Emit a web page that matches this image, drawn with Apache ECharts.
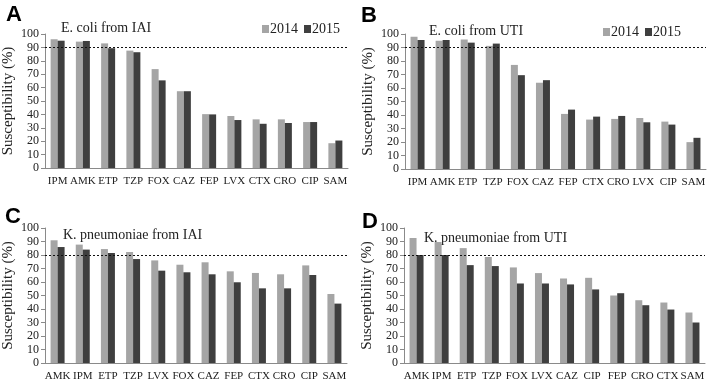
<!DOCTYPE html>
<html>
<head>
<meta charset="utf-8">
<script src="https://cdn.jsdelivr.net/npm/echarts@6/dist/echarts.min.js"></script>
<style>
html, body { margin: 0; padding: 0; background: #fff; }
#main { width: 709px; height: 382px; }
</style>
</head>
<body>
<div id="main"></div>
<script>
// antibiotic categories per panel
var catsA = ['IPM', 'AMK', 'ETP', 'TZP', 'FOX', 'CAZ', 'FEP', 'LVX', 'CTX', 'CRO', 'CIP', 'SAM'];
var catsB = ['IPM', 'AMK', 'ETP', 'TZP', 'FOX', 'CAZ', 'FEP', 'CTX', 'CRO', 'LVX', 'CIP', 'SAM'];
var catsC = ['AMK', 'IPM', 'ETP', 'TZP', 'LVX', 'FOX', 'CAZ', 'FEP', 'CTX', 'CRO', 'CIP', 'SAM'];
var catsD = ['AMK', 'IPM', 'ETP', 'TZP', 'FOX', 'LVX', 'CAZ', 'CIP', 'FEP', 'CRO', 'CTX', 'SAM'];

// susceptibility (%)
var a2014 = [96, 94.3, 93, 87.6, 73.8, 57.3, 40.2, 38.8, 36.3, 36.3, 34.3, 18.5];
var a2015 = [95, 94.8, 89.4, 86.4, 65.4, 57.3, 40, 35.8, 33, 33.6, 34.3, 20.5];
var b2014 = [98, 95, 96, 91.2, 77.1, 63.9, 40.8, 36.6, 37.1, 37.8, 35.1, 19.9];
var b2015 = [95.6, 95.6, 93.6, 92.9, 69.5, 65.8, 44, 38.8, 39.3, 34.6, 32.9, 23.1];
var c2014 = [90.9, 87.7, 84.4, 82.2, 76, 72.8, 74.6, 67.9, 66.7, 65.7, 72.3, 51.1];
var c2015 = [85.9, 84, 81.5, 77, 68.4, 67.2, 65.7, 59.8, 55.3, 55.3, 65.2, 44];
var d2014 = [92.6, 89.6, 85.1, 78.5, 70.8, 66.6, 62.6, 63.1, 50, 46.5, 44.8, 37.4];
var d2015 = [80, 80, 72.5, 71.8, 58.9, 58.9, 58.2, 54.5, 51.7, 42.8, 39.6, 30];

var panelTitles = ['E. coli from IAI', 'E. coli from UTI', 'K. pneumoniae from IAI', 'K. pneumoniae from UTI'];
var thresholds = [90, 90, 80, 80];

var serif = '"Liberation Serif", "DejaVu Serif", serif';
var light = '#a5a5a5';
var dark = '#3f3f3f';

var grids = [
	{ left: 42, top: 34, width: 306, height: 134 },
	{ left: 405, top: 34, width: 301, height: 135 },
	{ left: 42, top: 228, width: 305, height: 137 },
	{ left: 404, top: 228, width: 301, height: 137 }
];
var cats = [catsA, catsB, catsC, catsD];
var data14 = [a2014, b2014, c2014, d2014];
var data15 = [a2015, b2015, c2015, d2015];

var xAxes = [], yAxes = [], series = [];
for (var i = 0; i < 4; i++) {
	xAxes.push({
		type: 'category',
		gridIndex: i,
		data: cats[i],
		axisLine: { lineStyle: { color: '#8a8a8a' } },
		axisTick: { length: 4, lineStyle: { color: '#8a8a8a' } },
		axisLabel: { color: '#222', fontFamily: serif, fontSize: 11, margin: 8, interval: 0 }
	});
	yAxes.push({
		type: 'value',
		gridIndex: i,
		min: 0,
		max: 100,
		interval: 10,
		name: 'Susceptibility (%)',
		nameLocation: 'middle',
		nameGap: 29,
		nameTextStyle: { color: '#222', fontFamily: serif, fontSize: 15 },
		axisLine: { show: true, lineStyle: { color: '#8a8a8a' } },
		axisTick: { show: true, length: 4, lineStyle: { color: '#8a8a8a' } },
		splitLine: { show: false },
		axisLabel: { color: '#222', fontFamily: serif, fontSize: 12, margin: 6 }
	});
	series.push({
		name: '2014',
		type: 'bar',
		xAxisIndex: i,
		yAxisIndex: i,
		data: data14[i],
		barWidth: 7,
		barGap: '0%',
		itemStyle: { color: light },
		markLine: {
			silent: true,
			symbol: 'none',
			label: { show: false },
			lineStyle: { color: '#111', type: [2, 2], width: 1.2 },
			data: [{ yAxis: thresholds[i] }]
		}
	});
	series.push({
		name: '2015',
		type: 'bar',
		xAxisIndex: i,
		yAxisIndex: i,
		data: data15[i],
		barWidth: 7,
		barGap: '0%',
		itemStyle: { color: dark }
	});
}

var letterStyle = { fontFamily: '"Liberation Sans", Arial, sans-serif', fontWeight: 'bold', fontSize: 22, color: '#000' };
var subStyle = { fontFamily: serif, fontWeight: 'normal', fontSize: 14, color: '#222' };
var legendText = { fontFamily: serif, fontSize: 14, color: '#222', padding: [0, 0, 0, -4] };

var myChart = echarts.init(document.getElementById('main'));
var option = {
	animation: false,
	backgroundColor: '#fff',
	title: [
		{ text: 'A', left: 1, top: -1, textStyle: letterStyle },
		{ text: 'B', left: 356, top: 0, textStyle: letterStyle },
		{ text: 'C', left: 0, top: 201, textStyle: letterStyle },
		{ text: 'D', left: 357, top: 206, textStyle: letterStyle },
		{ text: panelTitles[0], left: 56, top: 16, textStyle: subStyle },
		{ text: panelTitles[1], left: 424, top: 19, textStyle: subStyle },
		{ text: panelTitles[2], left: 58, top: 223, textStyle: subStyle },
		{ text: panelTitles[3], left: 419, top: 226, textStyle: subStyle }
	],
	legend: [
		{
			left: 257, top: 17, itemWidth: 7, itemHeight: 8, itemGap: 6,
			icon: 'rect',
			textStyle: legendText,
			data: ['2014', '2015']
		},
		{
			left: 598, top: 20, itemWidth: 7, itemHeight: 8, itemGap: 6,
			icon: 'rect',
			textStyle: legendText,
			data: ['2014', '2015']
		}
	],
	grid: grids,
	xAxis: xAxes,
	yAxis: yAxes,
	series: series
};
myChart.setOption(option);
</script>
</body>
</html>
